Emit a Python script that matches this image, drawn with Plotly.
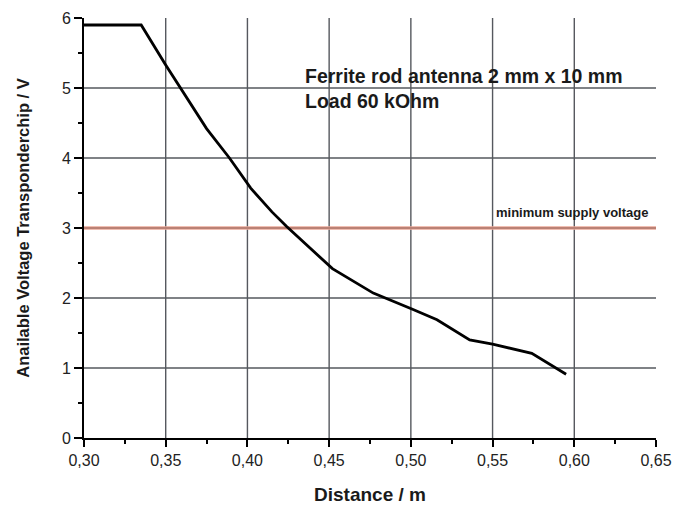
import plotly.graph_objects as go

distance = [0.300, 0.335, 0.350, 0.359, 0.375, 0.389, 0.402, 0.415, 0.424, 0.452,
            0.477, 0.501, 0.516, 0.536, 0.550, 0.574, 0.595]
voltage = [5.90, 5.90, 5.33, 5.00, 4.42, 4.00, 3.57, 3.23, 3.02, 2.42,
           2.07, 1.84, 1.69, 1.40, 1.34, 1.21, 0.91]

x_ticks = [0.30, 0.35, 0.40, 0.45, 0.50, 0.55, 0.60, 0.65]
y_ticks = [0, 1, 2, 3, 4, 5, 6]
x_grid = [0.35, 0.40, 0.45, 0.50, 0.55, 0.60]
y_grid = [1, 2, 4, 5]
min_supply = 3.0

FONT = "Liberation Sans, Arial, sans-serif"

fig = go.Figure()
fig.add_trace(go.Scatter(x=distance, y=voltage, mode="lines",
                         line=dict(color="black", width=2.8), showlegend=False))

shapes = []
for gx in x_grid:
    shapes.append(dict(type="line", xref="x", yref="y", x0=gx, x1=gx, y0=0, y1=6,
                       line=dict(color="#55585e", width=1.4), layer="below"))
for gy in y_grid:
    shapes.append(dict(type="line", xref="x", yref="y", x0=0.30, x1=0.65, y0=gy, y1=gy,
                       line=dict(color="#55585e", width=1.4), layer="below"))
shapes.append(dict(type="line", xref="x", yref="y", x0=0.30, x1=0.65, y0=min_supply, y1=min_supply,
                   line=dict(color="#eba898", width=3.5), layer="below"))
shapes.append(dict(type="line", xref="x", yref="y", x0=0.30, x1=0.65, y0=min_supply, y1=min_supply,
                   line=dict(color="#8a5a52", width=1), layer="below"))
fig.update_layout(shapes=shapes)

fig.add_annotation(x=0.434, y=5.0, xref="x", yref="y", xanchor="left", yanchor="middle",
                   text="<b>Ferrite rod antenna 2 mm x 10 mm<br>Load 60 kOhm</b>", showarrow=False, align="left",
                   font=dict(family=FONT, size=19.5, color="#1a1a1a"))
fig.add_annotation(x=0.6464, y=min_supply + 0.09, xref="x", yref="y", xanchor="right", yanchor="bottom",
                   text="<b>minimum supply voltage</b>", showarrow=False,
                   font=dict(family=FONT, size=13, color="#1a1a1a"))

fig.update_xaxes(range=[0.30, 0.65], tickvals=x_ticks, tickformat=".2f", showgrid=False, zeroline=False,
                 showline=True, linecolor="black", linewidth=2, ticks="outside", ticklen=7, tickwidth=2,
                 tickcolor="black", automargin=False, ticklabeloverflow="allow",
                 minor=dict(dtick=0.025, tick0=0.30, ticks="outside", ticklen=4, tickwidth=1.5, tickcolor="black"),
                 title=dict(text="<b>Distance / m</b>", font=dict(family=FONT, size=19, color="#1a1a1a"), standoff=20),
                 tickfont=dict(family=FONT, size=16, color="#222"))
fig.update_yaxes(range=[0, 6], tickvals=y_ticks, showgrid=False, zeroline=False,
                 showline=True, linecolor="black", linewidth=2, ticks="outside", ticklen=8, tickwidth=2,
                 tickcolor="black", automargin=False, ticklabeloverflow="allow",
                 minor=dict(dtick=0.5, tick0=0, ticks="outside", ticklen=4, tickwidth=1.5, tickcolor="black"),
                 title=dict(text="<b>Anailable Voltage Transponderchip / V</b>", font=dict(family=FONT, size=16.5, color="#1a1a1a"), standoff=28),
                 tickfont=dict(family=FONT, size=16, color="#222"))

fig.update_layout(width=678, height=505, margin=dict(l=84, r=22, t=18, b=67),
                  paper_bgcolor="white", plot_bgcolor="white", separators=",.",
                  font=dict(family=FONT))

# remove the default 8px page margin so the 678x505 figure fills the window exactly
fig.write_html("out.html", config={"displayModeBar": False},
               post_script="document.body.style.margin='0px';document.body.style.overflow='hidden';")
